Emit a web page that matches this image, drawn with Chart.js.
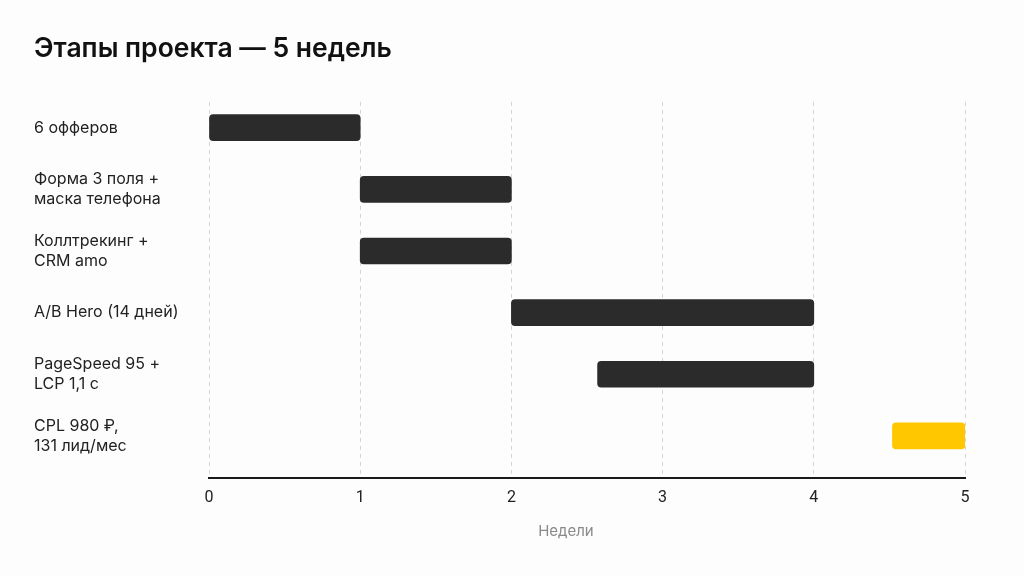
<!DOCTYPE html>
<html lang="ru">
<head>
  <meta charset="UTF-8" />
  <title>Этапы проекта</title>
  <script src="https://cdn.jsdelivr.net/npm/chart.js"></script>
  <style>
    html, body { margin: 0; padding: 0; background: #fdfdfd; }
    .wrap { width: 1024px; height: 576px; }
  </style>
</head>
<body>
  <div class="wrap"><canvas id="gantt"></canvas></div>
  <script>
    // stages and their start/end in weeks
    const stages = [
      ['6 офферов'],
      ['Форма 3 поля +', 'маска телефона'],
      ['Коллтрекинг +', 'CRM amo'],
      ['A/B Hero (14 дней)'],
      ['PageSpeed 95 +', 'LCP 1,1 с'],
      ['CPL 980 ₽,', '131 лид/мес']
    ];
    const startWeek = [0, 1, 1, 2, 2.57, 4.52];
    const endWeek = [1, 2, 2, 4, 4, 5];
    const barColors = ['#2b2b2b', '#2b2b2b', '#2b2b2b', '#2b2b2b', '#2b2b2b', '#ffc700'];
    const weekTicks = [0, 1, 2, 3, 4, 5];

    const points = stages.map((s, i) => ({ x: [startWeek[i], endWeek[i]], y: i }));

    new Chart(document.getElementById('gantt'), {
      type: 'bar',
      data: {
        datasets: [{
          data: points,
          backgroundColor: barColors,
          borderRadius: 4,
          borderSkipped: false,
          barThickness: 26
        }]
      },
      options: {
        indexAxis: 'y',
        responsive: true,
        maintainAspectRatio: false,
        animation: false,
        layout: { padding: { left: 34, right: 59, top: 0, bottom: 32 } },
        plugins: {
          legend: { display: false },
          tooltip: { enabled: false },
          title: {
            display: true,
            text: 'Этапы проекта — 5 недель',
            align: 'start',
            color: '#111',
            font: { family: 'Inter', size: 26.5, weight: '600' },
            padding: { top: 33, bottom: 37 }
          }
        },
        scales: {
          x: {
            type: 'linear',
            min: 0,
            max: 5,
            afterBuildTicks: axis => { axis.ticks = weekTicks.map(v => ({ value: v })); },
            grid: { color: '#d4d4d4', drawTicks: false },
            border: { display: true, color: '#1a1a1a', width: 2, dash: [4, 4] },
            ticks: { color: '#222', padding: 11, font: { family: 'Roboto', size: 16 } },
            title: {
              display: true,
              text: 'Недели' + '          ',
              color: '#8a8a8a',
              font: { family: 'Inter', size: 15 },
              padding: { top: 3, bottom: 4 }
            }
          },
          y: {
            type: 'linear',
            reverse: true,
            offset: false,
            min: -0.42,
            max: 5.68,
            afterBuildTicks: axis => { axis.ticks = stages.map((s, i) => ({ value: i })); },
            afterFit: axis => { axis.width = 175; },
            grid: { display: false },
            border: { display: false },
            ticks: {
              crossAlign: 'far',
              color: '#222',
              font: { family: 'Inter', size: 16, lineHeight: 1.25 },
              callback: v => stages[v]
            }
          }
        }
      }
    });
  </script>
</body>
</html>
